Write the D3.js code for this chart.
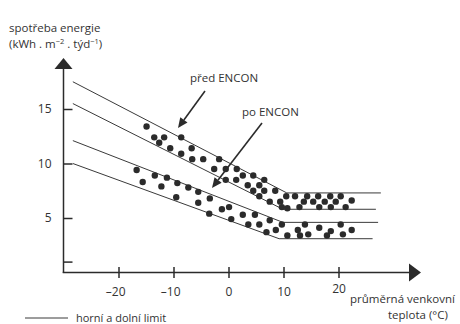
<!DOCTYPE html>
<html>
<head>
<meta charset="utf-8">
<script src="https://cdn.jsdelivr.net/npm/d3@7"></script>
<style>
  body { margin: 0; background: #fff; }
  svg { display: block; font-family: "Open Sans", sans-serif; }
  text { fill: #333; }
</style>
</head>
<body>
<div id="chart"></div>
<script>
// tick values
const xTicks = [-20, -10, 0, 10, 20]
const yTicks = [1, 5, 10, 15]
const yTickLabels = ["", "5", "10", "15"]

// upper / lower limit lines [temperature, energy]
const predUpper = [[-28.3, 17.5], [10.6, 7.3], [27.7, 7.3]]
const predLower = [[-28.3, 15.5], [9.9, 5.8], [26.8, 5.8]]
const poUpper   = [[-28.3, 12.1], [9.9, 4.6], [27.2, 4.6]]
const poLower   = [[-28.3, 10.0], [9.2, 3.1], [26.2, 3.1]]

// measured weeks before ENCON
const predPoints = [
  [-14.9, 13.4], [-13.5, 12.4], [-11.7, 12.4], [-12.6, 11.9], [-8.6, 12.4],
  [-10.6, 11.4], [-6.7, 11.4], [-8.6, 10.9], [-6.6, 10.4], [-4.6, 10.4],
  [-1.7, 10.4], [-2.6, 9.5], [-0.5, 9.5], [-0.5, 8.5], [1.5, 9.5],
  [2.6, 8.9], [1.4, 8.5], [4.5, 8.9], [3.5, 8.0], [5.6, 8.0],
  [6.5, 8.5], [4.5, 7.5], [6.5, 7.5], [5.6, 7.0], [7.5, 6.5],
  [8.5, 7.5], [9.4, 6.5], [10.5, 7.0], [9.7, 6.0], [10.7, 5.9],
  [12.1, 7.0], [12.9, 6.0], [13.7, 6.5], [14.3, 7.0], [15.4, 6.5],
  [16.3, 7.0], [16.5, 6.0], [18.5, 7.0], [17.5, 6.5], [18.6, 6.0],
  [19.5, 6.5], [20.4, 7.0], [21.3, 6.0], [22.4, 6.6]
]

// measured weeks after ENCON
const poPoints = [
  [-16.7, 9.4], [-15.6, 8.3], [-13.4, 8.9], [-11.2, 8.7], [-12.2, 7.9],
  [-9.3, 8.2], [-9.5, 6.9], [-7.3, 7.8], [-5.5, 7.4], [-5.5, 6.4],
  [-3.4, 6.8], [-3.5, 5.4], [-1.2, 5.8], [0.1, 6.0], [0.5, 4.9],
  [2.6, 5.3], [3.6, 4.4], [4.8, 5.3], [5.6, 4.4], [7.5, 4.8],
  [6.9, 3.7], [8.6, 3.9], [9.7, 4.4], [10.7, 3.4], [12.6, 3.9],
  [13.9, 4.4], [13.0, 3.4], [14.5, 3.5], [16.5, 4.1], [17.9, 3.4],
  [18.6, 3.8], [20.4, 4.4], [20.8, 3.5], [22.4, 3.9]
]

const width = 460
const height = 324
const ink = "#2b2b2b"

const svg = d3.select("#chart")
  .append("svg")
    .attr("width", width)
    .attr("height", height)

const x = d3.scaleLinear()
  .domain([-30, 30])
  .range([63.5, 393.5])

const y = d3.scaleLinear()
  .domain([0, 15])
  .range([272.5, 109])

// y axis, ticks pointing inward
const yAxis = svg.append("g")
  .attr("transform", "translate(" + x(-30) + ",0)")
  .call(d3.axisLeft(y)
    .tickValues(yTicks)
    .tickSizeInner(-9)
    .tickSizeOuter(0)
    .tickPadding(12)
    .tickFormat((d, i) => yTickLabels[i]))
yAxis.select(".domain").remove()
yAxis.selectAll("line").attr("stroke", ink).attr("stroke-width", 1.5)
yAxis.selectAll("text").attr("font-size", 12).attr("font-family", "Open Sans").attr("fill", "#333")

svg.append("line")
  .attr("x1", x(-30)).attr("x2", x(-30))
  .attr("y1", y(0) + 0.5).attr("y2", 66)
  .attr("stroke", ink).attr("stroke-width", 1.5)
svg.append("path")
  .attr("d", d3.line()([[x(-30), 58], [x(-30) + 9, 69], [x(-30) - 9, 69]]) + "Z")
  .attr("fill", ink)

// x axis, ticks crossing the line
const xAxis = svg.append("g")
  .attr("transform", "translate(0," + y(0) + ")")
  .call(d3.axisBottom(x)
    .tickValues(xTicks)
    .tickSize(5.5)
    .tickPadding(10)
    .tickFormat(d => d < 0 ? "\u2013" + Math.abs(d) : d))
xAxis.select(".domain").remove()
xAxis.selectAll("line").attr("y1", -5.5).attr("stroke", ink).attr("stroke-width", 1.5)
xAxis.selectAll("text")
  .attr("font-size", 12).attr("font-family", "Open Sans").attr("fill", "#333")
  .attr("text-anchor", d => d < 0 ? "end" : "middle")
  .attr("x", d => d < 0 ? 6.5 : 0)
  .attr("y", d => d === 20 ? 12 : 15)

svg.append("line")
  .attr("x1", x(-30) - 0.75).attr("x2", 412)
  .attr("y1", y(0)).attr("y2", y(0))
  .attr("stroke", ink).attr("stroke-width", 1.5)
svg.append("path")
  .attr("d", d3.line()([[421, y(0)], [409, y(0) - 9], [409, y(0) + 9]]) + "Z")
  .attr("fill", ink)

// limit lines
const line = d3.line()
  .x(d => x(d[0]))
  .y(d => y(d[1]))

svg.selectAll(".limit")
  .data([predUpper, predLower, poUpper, poLower])
  .enter()
  .append("path")
    .attr("class", "limit")
    .attr("d", line)
    .attr("fill", "none")
    .attr("stroke", "#3a3a3a")
    .attr("stroke-width", 1)

// dots
svg.selectAll(".pred")
  .data(predPoints)
  .enter()
  .append("circle")
    .attr("class", "pred")
    .attr("cx", d => x(d[0]))
    .attr("cy", d => y(d[1]))
    .attr("r", 3.2)
    .attr("fill", ink)

svg.selectAll(".po")
  .data(poPoints)
  .enter()
  .append("circle")
    .attr("class", "po")
    .attr("cx", d => x(d[0]))
    .attr("cy", d => y(d[1]))
    .attr("r", 3.2)
    .attr("fill", ink)

// annotations with arrows
function arrow(x1, y1, x2, y2) {
  const a = Math.atan2(y2 - y1, x2 - x1)
  const len = 10, half = 4.5
  const bx = x2 - len * Math.cos(a), by = y2 - len * Math.sin(a)
  svg.append("line")
    .attr("x1", x1).attr("y1", y1).attr("x2", bx).attr("y2", by)
    .attr("stroke", ink).attr("stroke-width", 1.6)
  svg.append("path")
    .attr("d", d3.line()([
      [x2, y2],
      [bx + half * Math.sin(a), by - half * Math.cos(a)],
      [bx - half * Math.sin(a), by + half * Math.cos(a)]
    ]) + "Z")
    .attr("fill", ink)
}

svg.append("text").attr("x", 190).attr("y", 82).attr("font-size", 11.5).text("před ENCON")
arrow(205, 91, 178, 128)

svg.append("text").attr("x", 242).attr("y", 116).attr("font-size", 11.5).text("po ENCON")
arrow(262, 123, 212, 188)

// axis titles
svg.append("text").attr("x", 9).attr("y", 32).attr("font-size", 11.5).text("spotřeba energie")
const unit = svg.append("text").attr("x", 9).attr("y", 48).attr("font-size", 11.5)
unit.append("tspan").text("(kWh . m")
unit.append("tspan").attr("dy", -4).attr("font-size", 7.5).text("\u22122")
unit.append("tspan").attr("dy", 4).text(" . týd")
unit.append("tspan").attr("dy", -4).attr("font-size", 7.5).text("\u22121")
unit.append("tspan").attr("dy", 4).text(")")

svg.append("text").attr("x", 350).attr("y", 303).attr("font-size", 11.5).text("průměrná venkovní")
svg.append("text").attr("x", 388).attr("y", 319).attr("font-size", 11.5).text("teplota (°C)")

// legend
svg.append("line")
  .attr("x1", 25).attr("x2", 68)
  .attr("y1", 318).attr("y2", 318)
  .attr("stroke", "#3a3a3a").attr("stroke-width", 1)
svg.append("text").attr("x", 76).attr("y", 322).attr("font-size", 11).text("horní a dolní limit")
</script>
</body>
</html>
